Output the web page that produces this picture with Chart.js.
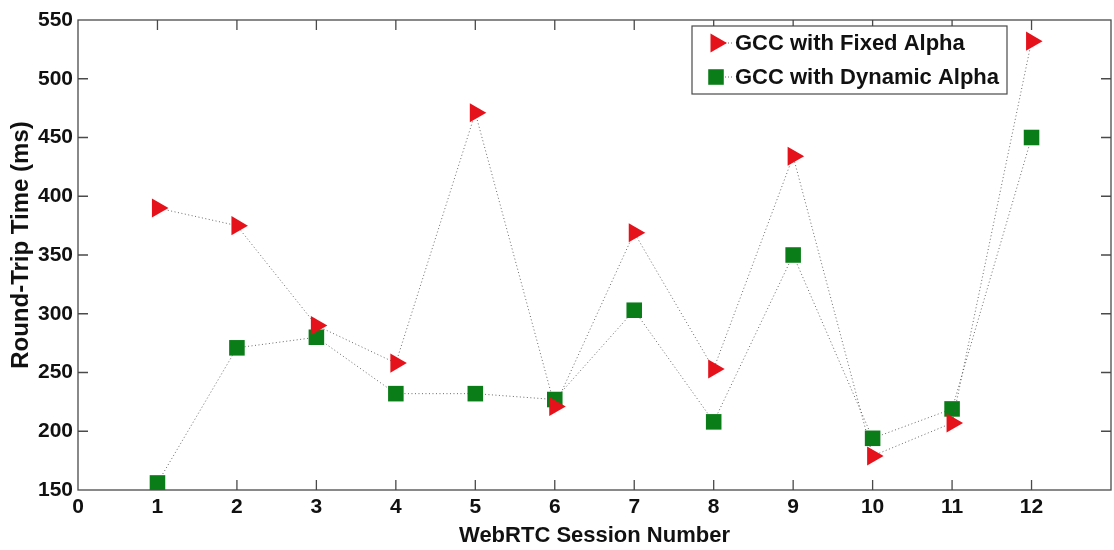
<!DOCTYPE html>
<html>
<head>
<meta charset="utf-8">
<script src="https://cdn.jsdelivr.net/npm/chart.js@4.4.1/dist/chart.umd.min.js"></script>
<style>
  html, body { margin: 0; padding: 0; background: #fff; overflow: hidden; }
  canvas { display: block; }
</style>
</head>
<body>
<canvas id="rtt" width="1114" height="550"></canvas>
<script>
// round-trip time per WebRTC session, fixed vs dynamic alpha in GCC
const sessions = [1, 2, 3, 4, 5, 6, 7, 8, 9, 10, 11, 12]
const fixedAlpha = [390, 375, 290, 258, 471, 221, 369, 253, 434, 179, 207, 532]
const dynamicAlpha = [156, 271, 280, 232, 232, 227, 303, 208, 350, 194, 219, 450]
const seriesNames = ["GCC with Fixed Alpha", "GCC with Dynamic Alpha"]
const xTicks = [0, 1, 2, 3, 4, 5, 6, 7, 8, 9, 10, 11, 12]
const yTicks = [150, 200, 250, 300, 350, 400, 450, 500, 550]
const yTitle = "Round-Trip Time (ms)"

const RED = "#e5121b"
const GREEN = "#0b7d18"
const AXIS = "#4a4a4a"
const FONT = "'Liberation Sans', Arial, sans-serif"
const TICK = 10

const toPoints = vals => sessions.map((s, i) => ({ x: s, y: vals[i] }))

// MATLAB-style box with inward tick marks on all four sides
const frameTicks = {
  id: "frameTicks",
  beforeDatasetsDraw(chart) {
    const { ctx, chartArea: a, scales: { x, y } } = chart
    ctx.save()
    ctx.strokeStyle = AXIS
    ctx.lineWidth = 1.3
    ctx.strokeRect(a.left, a.top, a.right - a.left, a.bottom - a.top)
    ctx.beginPath()
    x.ticks.forEach(t => {
      const px = x.getPixelForValue(t.value)
      if (px <= a.left + 1 || px >= a.right - 1) return
      ctx.moveTo(px, a.bottom); ctx.lineTo(px, a.bottom - TICK)
      ctx.moveTo(px, a.top); ctx.lineTo(px, a.top + TICK)
    })
    y.ticks.forEach(t => {
      const py = y.getPixelForValue(t.value)
      if (py <= a.top + 1 || py >= a.bottom - 1) return
      ctx.moveTo(a.left, py); ctx.lineTo(a.left + TICK, py)
      ctx.moveTo(a.right, py); ctx.lineTo(a.right - TICK, py)
    })
    ctx.stroke()
    ctx.restore()
  }
}

// y title sits a little above the middle of the axis
const sideTitle = {
  id: "sideTitle",
  afterDraw(chart) {
    const { ctx } = chart
    ctx.save()
    ctx.translate(21, 245)
    ctx.rotate(-Math.PI / 2)
    ctx.fillStyle = "#111"
    ctx.font = "bold 24px " + FONT
    ctx.textAlign = "center"
    ctx.textBaseline = "middle"
    ctx.fillText(yTitle, 0, 0)
    ctx.restore()
  }
}

// boxed legend in the upper right corner of the plot
const boxLegend = {
  id: "boxLegend",
  afterDraw(chart) {
    const { ctx } = chart
    const box = { left: 692, top: 26, right: 1007, bottom: 94 }
    ctx.save()
    ctx.fillStyle = "#fff"
    ctx.fillRect(box.left, box.top, box.right - box.left, box.bottom - box.top)
    ctx.strokeStyle = AXIS
    ctx.lineWidth = 1.2
    ctx.strokeRect(box.left, box.top, box.right - box.left, box.bottom - box.top)
    const rows = [43, 77]
    chart.data.datasets.forEach((ds, i) => {
      const cy = rows[i]
      ctx.strokeStyle = "#666"
      ctx.lineWidth = 1
      ctx.setLineDash([1, 2])
      ctx.beginPath(); ctx.moveTo(716, cy); ctx.lineTo(733, cy); ctx.stroke()
      ctx.setLineDash([])
      ctx.fillStyle = ds.pointBackgroundColor
      ctx.strokeStyle = ds.pointBorderColor
      Chart.helpers.drawPoint(ctx, {
        pointStyle: ds.pointStyle, rotation: ds.pointRotation || 0,
        radius: ds.pointRadius, borderWidth: 0
      }, 716, cy)
      ctx.fillStyle = "#111"
      ctx.font = "bold 22px " + FONT
      ctx.textBaseline = "middle"
      ctx.fillText(ds.label, 735, cy + 1)
    })
    ctx.restore()
  }
}

new Chart(document.getElementById("rtt"), {
  type: "line",
  data: {
    datasets: [
      {
        label: seriesNames[0],
        data: toPoints(fixedAlpha),
        borderColor: "rgba(80,80,80,0.85)",
        borderWidth: 1,
        borderDash: [1, 2.5],
        pointStyle: "triangle",
        pointRotation: 90,
        pointRadius: 11,
        pointBackgroundColor: RED,
        pointBorderColor: RED,
        pointBorderWidth: 0
      },
      {
        label: seriesNames[1],
        data: toPoints(dynamicAlpha),
        borderColor: "rgba(80,80,80,0.85)",
        borderWidth: 1,
        borderDash: [1, 2.5],
        pointStyle: "rect",
        pointRadius: 11,
        pointBackgroundColor: GREEN,
        pointBorderColor: GREEN,
        pointBorderWidth: 0
      }
    ]
  },
  options: {
    responsive: false,
    animation: false,
    layout: { autoPadding: false, padding: { top: 20, right: 3, left: 0, bottom: 0 } },
    plugins: { legend: { display: false }, tooltip: { enabled: false } },
    scales: {
      x: {
        type: "linear",
        min: 0,
        max: 13,
        afterFit: s => { s.height = 60; s.paddingLeft = 0; s.paddingRight = 0 },
        afterBuildTicks: s => { s.ticks = xTicks.concat([13]).map(v => ({ value: v })) },
        ticks: {
          autoSkip: false,
          padding: 5,
          color: "#111",
          font: { family: FONT, size: 21, weight: "bold" },
          callback: v => (xTicks.includes(v) ? String(v) : null)
        },
        grid: { display: false, drawTicks: false },
        border: { display: false },
        title: {
          display: true,
          text: "WebRTC Session Number",
          color: "#111",
          font: { family: FONT, size: 22, weight: "bold" },
          padding: { top: 0, bottom: 1 }
        }
      },
      y: {
        min: 150,
        max: 550,
        afterFit: s => { s.width = 78 },
        afterBuildTicks: s => { s.ticks = yTicks.map(v => ({ value: v })) },
        ticks: {
          padding: 5,
          color: "#111",
          font: { family: FONT, size: 21, weight: "bold" }
        },
        grid: { display: false, drawTicks: false },
        border: { display: false },
        title: { display: false }
      }
    }
  },
  plugins: [frameTicks, boxLegend, sideTitle]
})
</script>
</body>
</html>
